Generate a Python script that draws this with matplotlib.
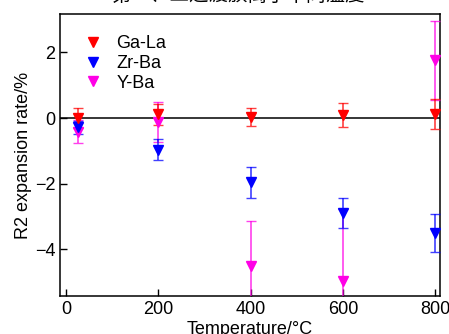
import matplotlib.pyplot as plt

plt.rcParams['font.family'] = ['Liberation Sans', 'Noto Sans CJK SC', 'DejaVu Sans']

temps = [25, 200, 400, 600, 800]

ga_la = [0.0, 0.12, 0.03, 0.1, 0.12]
ga_la_err = [0.3, 0.32, 0.28, 0.37, 0.45]

zr_ba = [-0.28, -0.97, -1.95, -2.9, -3.5]
zr_ba_err = [0.2, 0.32, 0.47, 0.46, 0.58]

y_ba = [-0.42, -0.12, -4.5, -4.96, 1.76]
y_ba_err = [0.35, 0.62, 1.35, 2.2, 1.2]

fig = plt.figure(figsize=(4.49, 3.34), dpi=100)
ax = fig.add_axes([0.1336, 0.1138, 0.8464, 0.8442])

ax.axhline(0, color='black', lw=1.1, zorder=1)

series = [
    (y_ba, y_ba_err, '#ff00e6', 'Y-Ba'),
    (zr_ba, zr_ba_err, '#0000ff', 'Zr-Ba'),
    (ga_la, ga_la_err, '#ff0000', 'Ga-La'),
]
handles = {}
for vals, errs, col, name in series:
    h = ax.errorbar(temps, vals, yerr=errs, fmt='v', color=col, ms=7.5,
                    ecolor=col, elinewidth=1.2, capsize=3.5, capthick=1.0,
                    label=name, zorder=3)
    for line in h[1]:
        line.set_alpha(0.75)
    for line in h[2]:
        line.set_alpha(0.75)
    handles[name] = h

order = ['Ga-La', 'Zr-Ba', 'Y-Ba']
ax.legend([handles[n][0] for n in order], order, loc='upper left',
          frameon=False, fontsize=13, handletextpad=0.5, handlelength=1.6,
          labelspacing=0.15, borderaxespad=0.0, bbox_to_anchor=(0.03, 0.95))

ax.set_xlim(-13, 810)
ax.set_ylim(-5.42, 3.17)
ax.set_xticks([0, 200, 400, 600, 800])
ax.set_yticks([-4, -2, 0, 2])
ax.tick_params(direction='in', length=5, width=1, labelsize=13)
for s in ax.spines.values():
    s.set_linewidth(1.1)

ax.set_xlabel('Temperature/°C', fontsize=13, labelpad=2)
ax.set_ylabel('R2 expansion rate/%', fontsize=13, labelpad=2)

fig.text(0.53, 1 - 6 / 334, '第一、二过渡族离子不同温度', ha='center',
         va='bottom', fontsize=14, family=['Noto Sans CJK SC', 'DejaVu Sans'])

fig.savefig('out.png', dpi=100)
